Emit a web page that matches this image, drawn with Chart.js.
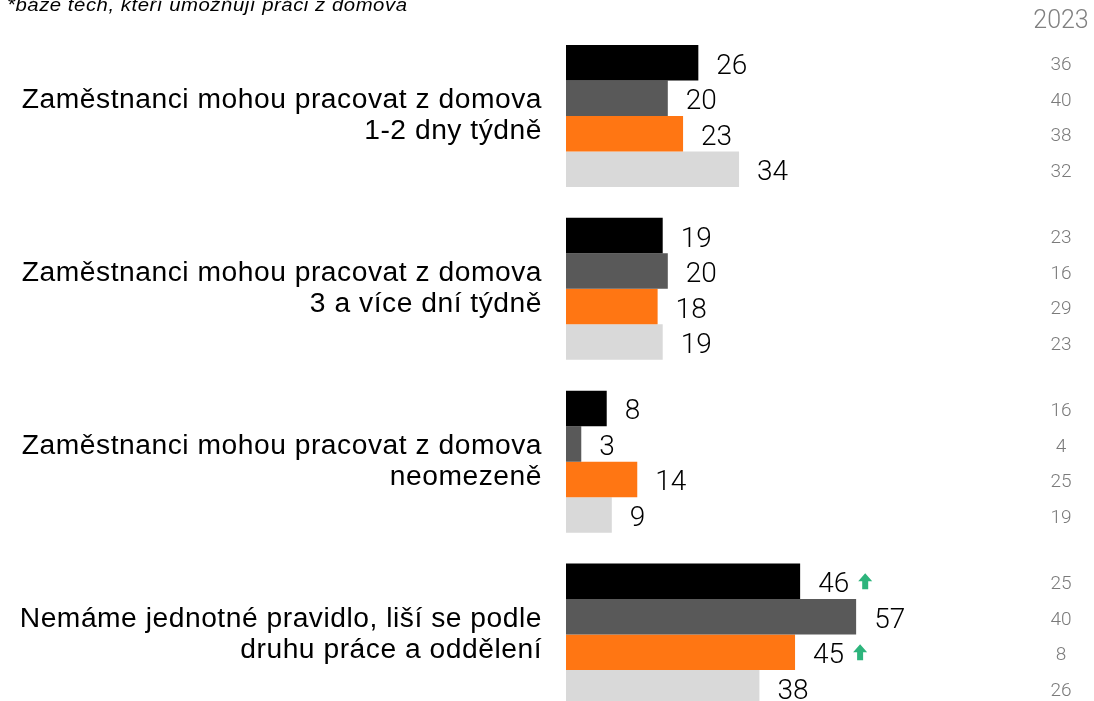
<!DOCTYPE html>
<html>
<head>
<meta charset="utf-8">
<script src="https://cdn.jsdelivr.net/npm/chart.js@4"></script>
<style>
  html, body { margin: 0; padding: 0; background: #fff; overflow: hidden; }
  #wrap { position: relative; width: 1094px; height: 730px; }
</style>
</head>
<body>
<div id="wrap"><canvas id="chartCanvas"></canvas></div>
<script>
// categories (two lines each)
const categories = [
    ['Zaměstnanci mohou pracovat z domova', '1-2 dny týdně'],
    ['Zaměstnanci mohou pracovat z domova', '3 a více dní týdně'],
    ['Zaměstnanci mohou pracovat z domova', 'neomezeně'],
    ['Nemáme jednotné pravidlo, liší se podle', 'druhu práce a oddělení']
];

// current values, one array per series
const series1 = [26, 19, 8, 46];
const series2 = [20, 20, 3, 57];
const series3 = [23, 18, 14, 45];
const series4 = [34, 19, 9, 38];

// values from 2023 (right column)
const prev1 = [36, 23, 16, 25];
const prev2 = [40, 16, 4, 40];
const prev3 = [38, 29, 25, 8];
const prev4 = [32, 23, 19, 26];

// green up arrows: [series index, category index]
const upArrows = [[0, 3], [2, 3]];

const prevYear = '2023';
const note = '*báze těch, kteří umožňují práci z domova';

const colors = ['#000000', '#595959', '#ff7613', '#d9d9d9'];
const prevValues = [prev1, prev2, prev3, prev4];

// draws text a bit wider, like the original export
function wideText(ctx, text, x, y, spacing, stretch) {
    ctx.save();
    ctx.letterSpacing = spacing;
    ctx.translate(x, y);
    ctx.scale(stretch, 1);
    ctx.fillText(text, 0, 0);
    ctx.restore();
}

const labelsPlugin = {
    id: 'labelsPlugin',
    afterDatasetsDraw(chart) {
        const ctx = chart.ctx;
        const area = chart.chartArea;
        const yScale = chart.scales.y;

        // note at the top
        ctx.save();
        ctx.fillStyle = '#000';
        ctx.font = 'italic 19px "Liberation Sans", Arial, sans-serif';
        ctx.textAlign = 'left';
        ctx.textBaseline = 'alphabetic';
        wideText(ctx, note, 7, 11, '0.5px', 1.07);
        ctx.restore();

        // year header
        const colX = 1061;
        ctx.save();
        ctx.fillStyle = '#808080';
        ctx.font = '300 25px Roboto, sans-serif';
        ctx.textAlign = 'center';
        ctx.textBaseline = 'middle';
        ctx.fillText(prevYear, colX, 22);
        ctx.restore();

        // category labels
        categories.forEach((lines, i) => {
            const cy = yScale.getPixelForValue(i);
            ctx.save();
            ctx.fillStyle = '#000';
            ctx.font = '27px "Liberation Sans", Arial, sans-serif';
            ctx.textAlign = 'right';
            ctx.textBaseline = 'middle';
            lines.forEach((line, j) => {
                const y = cy + (j - (lines.length - 1) / 2) * 31;
                wideText(ctx, line, area.left - 24, y, '0.5px', 1.045);
            });
            ctx.restore();
        });

        // bar value labels, 2023 column and arrows
        chart.data.datasets.forEach((ds, di) => {
            const meta = chart.getDatasetMeta(di);
            meta.data.forEach((bar, i) => {
                const txt = String(ds.data[i]);
                ctx.save();
                ctx.fillStyle = '#000';
                ctx.font = '300 28px Roboto, sans-serif';
                ctx.textAlign = 'left';
                ctx.textBaseline = 'middle';
                const tx = bar.x + 18;
                ctx.fillText(txt, tx, bar.y + 4);
                const w = ctx.measureText(txt).width;
                ctx.restore();

                if (upArrows.some(a => a[0] === di && a[1] === i)) {
                    const ax = tx + w + 9;
                    const ay = bar.y - 8;
                    ctx.save();
                    ctx.fillStyle = '#2db47c';
                    ctx.beginPath();
                    ctx.moveTo(ax + 7, ay);
                    ctx.lineTo(ax + 14, ay + 8);
                    ctx.lineTo(ax + 10, ay + 8);
                    ctx.lineTo(ax + 10, ay + 16);
                    ctx.lineTo(ax + 4, ay + 16);
                    ctx.lineTo(ax + 4, ay + 8);
                    ctx.lineTo(ax, ay + 8);
                    ctx.closePath();
                    ctx.fill();
                    ctx.restore();
                }

                ctx.save();
                ctx.fillStyle = '#7a7a7a';
                ctx.font = '300 19px Roboto, sans-serif';
                ctx.textAlign = 'center';
                ctx.textBaseline = 'middle';
                ctx.fillText(String(prevValues[di][i]), colX, bar.y + 3);
                ctx.restore();
            });
        });
    }
};

const ctx = document.getElementById('chartCanvas').getContext('2d');
const myChart = new Chart(ctx, {
    type: 'bar',
    data: {
        labels: categories,
        datasets: [series1, series2, series3, series4].map((values, i) => ({
            label: 'Série ' + (i + 1),
            data: values,
            backgroundColor: colors[i],
            borderWidth: 0,
            categoryPercentage: 0.821,
            barPercentage: 1.0
        }))
    },
    options: {
        indexAxis: 'y',
        responsive: true,
        maintainAspectRatio: false,
        animation: false,
        layout: {
            padding: { left: 566, right: 19, top: 29.5, bottom: 9 }
        },
        plugins: {
            legend: { display: false },
            tooltip: { enabled: false }
        },
        scales: {
            x: { display: false, min: 0, max: 100 },
            y: { display: false }
        }
    },
    plugins: [labelsPlugin]
});
</script>
</body>
</html>
